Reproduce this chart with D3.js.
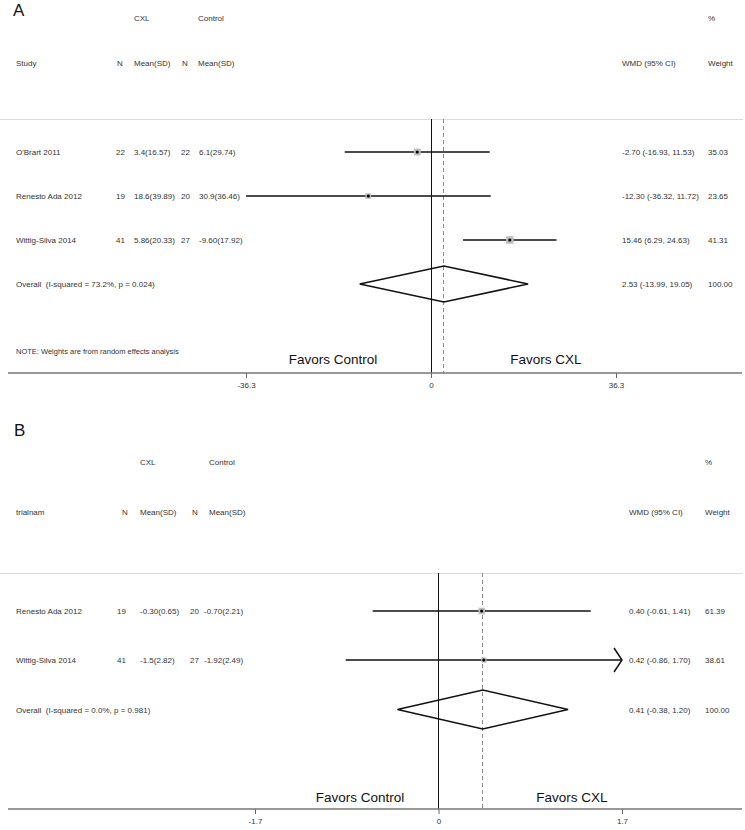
<!DOCTYPE html>
<html>
<head>
<meta charset="utf-8">
<script src="https://cdn.jsdelivr.net/npm/d3@7"></script>
<style>
  body { margin: 0; background: #fff; }
  svg text { font-family: "Liberation Sans", Arial, sans-serif; fill: #333; white-space: pre; }
</style>
</head>
<body>
<svg id="chart" width="745" height="830"></svg>
<script>
// ---------- Panel A data ----------
const studiesA = ["O'Brart 2011", "Renesto Ada 2012", "Wittig-Silva 2014"];
const nCxlA = ["22", "19", "41"];
const meanSdCxlA = ["3.4(16.57)", "18.6(39.89)", "5.86(20.33)"];
const nCtrlA = ["22", "20", "27"];
const meanSdCtrlA = ["6.1(29.74)", "30.9(36.46)", "-9.60(17.92)"];
const wmdA = [-2.70, -12.30, 15.46];
const lowA = [-16.93, -36.32, 6.29];
const highA = [11.53, 11.72, 24.63];
const weightA = [35.03, 23.65, 41.31];
const overallLabelA = "Overall  (I-squared = 73.2%, p = 0.024)";
const overallA = [2.53, -13.99, 19.05];
const ticksA = [-36.3, 0, 36.3];
const tickLabelsA = ["-36.3", "0", "36.3"];

// ---------- Panel B data ----------
const studiesB = ["Renesto Ada 2012", "Wittig-Silva 2014"];
const nCxlB = ["19", "41"];
const meanSdCxlB = ["-0.30(0.65)", "-1.5(2.82)"];
const nCtrlB = ["20", "27"];
const meanSdCtrlB = ["-0.70(2.21)", "-1.92(2.49)"];
const wmdB = [0.40, 0.42];
const lowB = [-0.61, -0.86];
const highB = [1.41, 1.70];
const weightB = [61.39, 38.61];
const overallLabelB = "Overall  (I-squared = 0.0%, p = 0.981)";
const overallB = [0.41, -0.38, 1.20];
const ticksB = [-1.7, 0, 1.7];
const tickLabelsB = ["-1.7", "0", "1.7"];

const svg = d3.select("#chart");

function fmt(v) { return v.toFixed(2); }
function crisp(v) { return Math.round(v - 0.5) + 0.5; }

function drawPanel(cfg) {
  const g = svg.append("g");
  const x = d3.scaleLinear().domain(cfg.domain).range(cfg.range);
  const [xMin, xMax] = cfg.domain;
  const fs = 8;

  // panel letter
  g.append("text").attr("x", cfg.letterX).attr("y", cfg.letterY)
    .attr("font-size", 17).style("fill", "#111").text(cfg.letter);

  // header row 1
  const h1 = cfg.header1Y + 3;
  g.append("text").attr("x", cfg.col.cxl).attr("y", h1).attr("font-size", fs).text("CXL");
  g.append("text").attr("x", cfg.col.ctrl).attr("y", h1).attr("font-size", fs).text("Control");
  g.append("text").attr("x", cfg.col.weight).attr("y", h1).attr("font-size", fs).text("%");
  // header row 2
  const h2 = cfg.header2Y + 3;
  g.append("text").attr("x", 16).attr("y", h2).attr("font-size", fs).text(cfg.studyHeader);
  g.append("text").attr("x", cfg.col.nH1).attr("y", h2).attr("font-size", fs).text("N");
  g.append("text").attr("x", cfg.col.cxl).attr("y", h2).attr("font-size", fs).text("Mean(SD)");
  g.append("text").attr("x", cfg.col.nH2).attr("y", h2).attr("font-size", fs).text("N");
  g.append("text").attr("x", cfg.col.ctrl).attr("y", h2).attr("font-size", fs).text("Mean(SD)");
  g.append("text").attr("x", cfg.col.wmd).attr("y", h2).attr("font-size", fs).text("WMD (95% CI)");
  g.append("text").attr("x", cfg.col.weight).attr("y", h2).attr("font-size", fs).text("Weight");

  // separator
  g.append("line").attr("x1", 0).attr("x2", 743).attr("y1", cfg.sepY + 0.5).attr("y2", cfg.sepY + 0.5)
    .attr("stroke", "#dcdcdc").attr("stroke-width", 1);

  // null line
  const x0 = crisp(x(0));
  g.append("line").attr("x1", x0).attr("x2", x0).attr("y1", cfg.sepY).attr("y2", cfg.axisY)
    .attr("stroke", "#111").attr("stroke-width", 1);
  // overall dashed line
  const xo = crisp(x(cfg.overall[0]));
  g.append("line").attr("x1", xo).attr("x2", xo)
    .attr("y1", cfg.sepY).attr("y2", cfg.axisY)
    .attr("stroke", "#888").attr("stroke-width", 1).attr("stroke-dasharray", "4,3");

  const maxW = d3.max(cfg.weights);
  cfg.studies.forEach((s, i) => {
    const y = cfg.rowY[i];
    const ty = y + 3;
    g.append("text").attr("x", 16).attr("y", ty).attr("font-size", fs).text(s);
    g.append("text").attr("x", cfg.col.n1).attr("y", ty).attr("font-size", fs).text(cfg.nCxl[i]);
    g.append("text").attr("x", cfg.col.cxl).attr("y", ty).attr("font-size", fs).text(cfg.msCxl[i]);
    g.append("text").attr("x", cfg.col.n2).attr("y", ty).attr("font-size", fs).text(cfg.nCtrl[i]);
    g.append("text").attr("x", cfg.col.ctrlV).attr("y", ty).attr("font-size", fs).text(cfg.msCtrl[i]);
    g.append("text").attr("x", cfg.col.wmd).attr("y", ty).attr("font-size", fs)
      .text(`${fmt(cfg.est[i])} (${fmt(cfg.low[i])}, ${fmt(cfg.high[i])})`);
    g.append("text").attr("x", cfg.col.weight).attr("y", ty).attr("font-size", fs).text(fmt(cfg.weights[i]));

    // CI line (clipped at axis range -> arrow)
    const lo = Math.max(cfg.low[i], xMin), hi = Math.min(cfg.high[i], xMax);
    g.append("line").attr("x1", x(lo)).attr("x2", x(hi)).attr("y1", y).attr("y2", y)
      .attr("stroke", "#111").attr("stroke-width", 1.5);
    if (cfg.high[i] >= xMax) {
      const ax = x(xMax);
      g.append("path").attr("d", `M${ax - 8},${y - 12}L${ax},${y}L${ax - 8},${y + 12}`)
        .attr("fill", "none").attr("stroke", "#111").attr("stroke-width", 1.5);
    }
    // weight box
    const side = cfg.maxBox * Math.sqrt(cfg.weights[i] / maxW);
    g.append("rect").attr("x", x(cfg.est[i]) - side / 2).attr("y", y - side / 2)
      .attr("width", side).attr("height", side).attr("fill", "#bdbdbd");
    // point
    g.append("circle").attr("cx", x(cfg.est[i])).attr("cy", y).attr("r", 1.6).attr("fill", "#000");
  });

  // overall
  const oy = cfg.overallY;
  g.append("text").attr("x", 16).attr("y", oy + 3).attr("font-size", fs).text(cfg.overallLabel);
  g.append("text").attr("x", cfg.col.wmd).attr("y", oy + 3).attr("font-size", fs)
    .text(`${fmt(cfg.overall[0])} (${fmt(cfg.overall[1])}, ${fmt(cfg.overall[2])})`);
  g.append("text").attr("x", cfg.col.weight).attr("y", oy + 3).attr("font-size", fs).text("100.00");
  const dh = cfg.diamondH;
  g.append("path")
    .attr("d", `M${x(cfg.overall[1])},${oy}L${x(cfg.overall[0])},${oy - dh}L${x(cfg.overall[2])},${oy}L${x(cfg.overall[0])},${oy + dh}Z`)
    .attr("fill", "none").attr("stroke", "#111").attr("stroke-width", 1.5);

  if (cfg.note) {
    g.append("text").attr("x", 16).attr("y", cfg.noteY + 3).attr("font-size", 7.5).text(cfg.note);
  }

  // favors labels
  g.append("text").attr("x", cfg.favCtrlX).attr("y", cfg.favY).attr("font-size", 13.5)
    .attr("text-anchor", "middle").style("fill", "#111").text("Favors Control");
  g.append("text").attr("x", cfg.favCxlX).attr("y", cfg.favY).attr("font-size", 13.5)
    .attr("text-anchor", "middle").style("fill", "#111").text("Favors CXL");

  // axis
  const axis = d3.axisBottom(x).tickValues(cfg.ticks).tickSize(5)
    .tickFormat((d, i) => cfg.tickLabels[i]);
  const ag = g.append("g").attr("transform", `translate(0,${cfg.axisY})`).call(axis);
  ag.select(".domain").remove();
  ag.selectAll(".tick line").attr("stroke", "#666");
  ag.selectAll(".tick text").attr("font-size", 8).attr("dy", "0.9em")
    .style("fill", "#333").attr("font-family", "Liberation Sans, Arial, sans-serif");
  g.append("line").attr("x1", 8).attr("x2", 742).attr("y1", cfg.axisY).attr("y2", cfg.axisY)
    .attr("stroke", "#777").attr("stroke-width", 1.5);
}

drawPanel({
  letter: "A", letterX: 13, letterY: 16,
  domain: [-36.3, 36.3], range: [246, 616],
  header1Y: 18, header2Y: 63, sepY: 119,
  rowY: [152, 196, 240], overallY: 284, noteY: 351, axisY: 373,
  studyHeader: "Study",
  col: { nH1: 117, n1: 116, cxl: 134, nH2: 182, n2: 181, ctrl: 198, ctrlV: 199, wmd: 622, weight: 708 },
  studies: studiesA, nCxl: nCxlA, msCxl: meanSdCxlA, nCtrl: nCtrlA, msCtrl: meanSdCtrlA,
  est: wmdA, low: lowA, high: highA, weights: weightA,
  overallLabel: overallLabelA, overall: overallA, diamondH: 18,
  note: "NOTE: Weights are from random effects analysis",
  maxBox: 7.5,
  favCtrlX: 333, favCxlX: 546, favY: 364,
  ticks: ticksA, tickLabels: tickLabelsA
});

drawPanel({
  letter: "B", letterX: 14, letterY: 436,
  domain: [-1.7, 1.7], range: [255, 622],
  header1Y: 462, header2Y: 512, sepY: 573,
  rowY: [611, 660], overallY: 709.5, noteY: null, axisY: 809,
  studyHeader: "trialnam",
  col: { nH1: 122, n1: 117, cxl: 140, nH2: 192, n2: 190, ctrl: 209, ctrlV: 204, wmd: 629, weight: 705 },
  studies: studiesB, nCxl: nCxlB, msCxl: meanSdCxlB, nCtrl: nCtrlB, msCtrl: meanSdCtrlB,
  est: wmdB, low: lowB, high: highB, weights: weightB,
  overallLabel: overallLabelB, overall: overallB, diamondH: 19.5,
  note: null,
  maxBox: 6.5,
  favCtrlX: 360, favCxlX: 572, favY: 802,
  ticks: ticksB, tickLabels: tickLabelsB
});
</script>
</body>
</html>
